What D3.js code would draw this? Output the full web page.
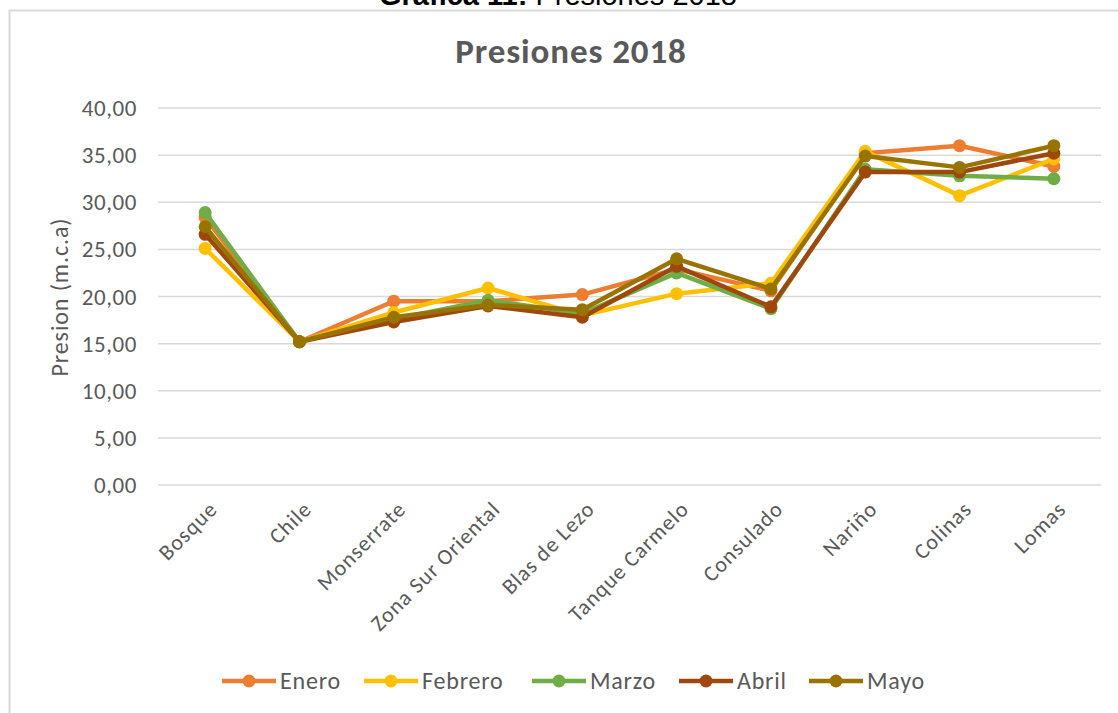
<!DOCTYPE html>
<html lang="es">
<head>
<meta charset="utf-8">
<script src="https://d3js.org/d3.v7.min.js"></script>
<style>
  body { margin: 0; background: #fff; }
  svg { display: block; }
</style>
</head>
<body>
<div id="chart"></div>
<script>
// data
var sitios = ["Bosque", "Chile", "Monserrate", "Zona Sur Oriental", "Blas de Lezo",
              "Tanque Carmelo", "Consulado", "Nariño", "Colinas", "Lomas"];
var meses = ["Enero", "Febrero", "Marzo", "Abril", "Mayo"];
var enero   = [28.4, 15.2, 19.5, 19.5, 20.2, 22.9, 20.6, 35.2, 36.0, 33.8];
var febrero = [25.1, 15.2, 18.3, 20.9, 18.0, 20.3, 21.4, 35.4, 30.7, 34.6];
var marzo   = [28.9, 15.2, 17.6, 19.6, 18.2, 22.5, 18.7, 33.5, 32.8, 32.5];
var abril   = [26.6, 15.2, 17.3, 19.0, 17.8, 23.2, 18.9, 33.2, 33.2, 35.2];
var mayo    = [27.4, 15.2, 17.8, 19.1, 18.6, 24.0, 20.8, 34.9, 33.7, 36.0];
var yTicks  = [0, 5, 10, 15, 20, 25, 30, 35, 40];

var colores = ["#ED7D31", "#FFC000", "#70AD47", "#9E480E", "#997300"];
var series = [enero, febrero, marzo, abril, mayo];

let width = 1118, height = 713;
let font = "Carlito, Calibri, 'Open Sans', sans-serif";

let svg = d3.select("#chart").append("svg")
    .attr("width", width)
    .attr("height", height);

// caption above the frame (cut at the top, as in the document page)
svg.append("text")
    .attr("x", 558).attr("y", 5)
    .attr("text-anchor", "middle")
    .style("font-family", "Arial, 'Liberation Sans', sans-serif")
    .style("font-size", "29px")
    .attr("fill", "#000")
    .call(function(t) {
        t.append("tspan").style("font-weight", "bold").text("Gráfica 11:");
        t.append("tspan").text(" Presiones 2018");
    });

// chart frame
svg.append("rect")
    .attr("x", 9.5).attr("y", 10.5)
    .attr("width", 1130).attr("height", 720)
    .attr("fill", "none")
    .attr("stroke", "#d9d9d9")
    .attr("stroke-width", 2);

svg.append("text")
    .attr("x", 571).attr("y", 63)
    .attr("text-anchor", "middle")
    .style("font-family", font)
    .style("font-size", "35px")
    .style("font-weight", "bold")
    .style("letter-spacing", "0.9px")
    .attr("fill", "#595959")
    .text("Presiones 2018");

let x = d3.scaleBand().domain(sitios).range([158, 1101]);
let y = d3.scaleLinear().domain([0, 40]).range([485, 108]);
let cx = function(i) { return x(sitios[i]) + x.bandwidth() / 2; };

// gridlines
svg.append("g").selectAll("line")
    .data(yTicks)
    .enter().append("line")
    .attr("x1", 158).attr("x2", 1101)
    .attr("y1", d => y(d)).attr("y2", d => y(d))
    .attr("stroke", "#d9d9d9")
    .attr("stroke-width", 1.5);

// y tick labels
let fmt = function(d) { return d.toFixed(2).replace(".", ","); };
svg.append("g").selectAll("text")
    .data(yTicks)
    .enter().append("text")
    .attr("x", 137).attr("y", d => y(d))
    .attr("dy", "0.35em")
    .attr("text-anchor", "end")
    .style("font-family", font)
    .style("font-size", "23px")
    .style("letter-spacing", "0.6px")
    .attr("fill", "#595959")
    .text(fmt);

svg.append("text")
    .attr("transform", "translate(68,297) rotate(-90)")
    .attr("text-anchor", "middle")
    .style("font-family", font)
    .style("font-size", "24px")
    .style("letter-spacing", "0.9px")
    .attr("fill", "#595959")
    .text("Presion (m.c.a)");

// x labels, rotated
svg.append("g").selectAll("text")
    .data(sitios)
    .enter().append("text")
    .attr("transform", (d, i) => "translate(" + (cx(i) + 8) + ",505) rotate(-45)")
    .attr("text-anchor", "end")
    .attr("dy", "0.35em")
    .style("font-family", font)
    .style("font-size", "22px")
    .style("letter-spacing", "1px")
    .attr("fill", "#595959")
    .text(d => d);

// lines and markers
let line = d3.line()
    .x((d, i) => cx(i))
    .y(d => y(d));

series.forEach(function(vals, k) {
    let g = svg.append("g");
    g.append("path")
        .datum(vals)
        .attr("d", line)
        .attr("fill", "none")
        .attr("stroke", colores[k])
        .attr("stroke-width", 4.5)
        .attr("stroke-linejoin", "round");
    g.selectAll("circle")
        .data(vals)
        .enter().append("circle")
        .attr("cx", (d, i) => cx(i))
        .attr("cy", d => y(d))
        .attr("r", 6.5)
        .attr("fill", colores[k]);
});

// legend
let legendX = [222, 364, 532, 679, 809];
let legend = svg.append("g").selectAll("g")
    .data(meses)
    .enter().append("g")
    .attr("transform", (d, i) => "translate(" + legendX[i] + ",681)");
legend.append("line")
    .attr("x1", 0).attr("x2", 54)
    .attr("stroke", (d, i) => colores[i])
    .attr("stroke-width", 4.5);
legend.append("circle")
    .attr("cx", 27).attr("r", 6.5)
    .attr("fill", (d, i) => colores[i]);
legend.append("text")
    .attr("x", 58).attr("dy", "0.35em")
    .style("font-family", font)
    .style("font-size", "24px")
    .style("letter-spacing", "0.8px")
    .attr("fill", "#595959")
    .text(d => d);
</script>
</body>
</html>
